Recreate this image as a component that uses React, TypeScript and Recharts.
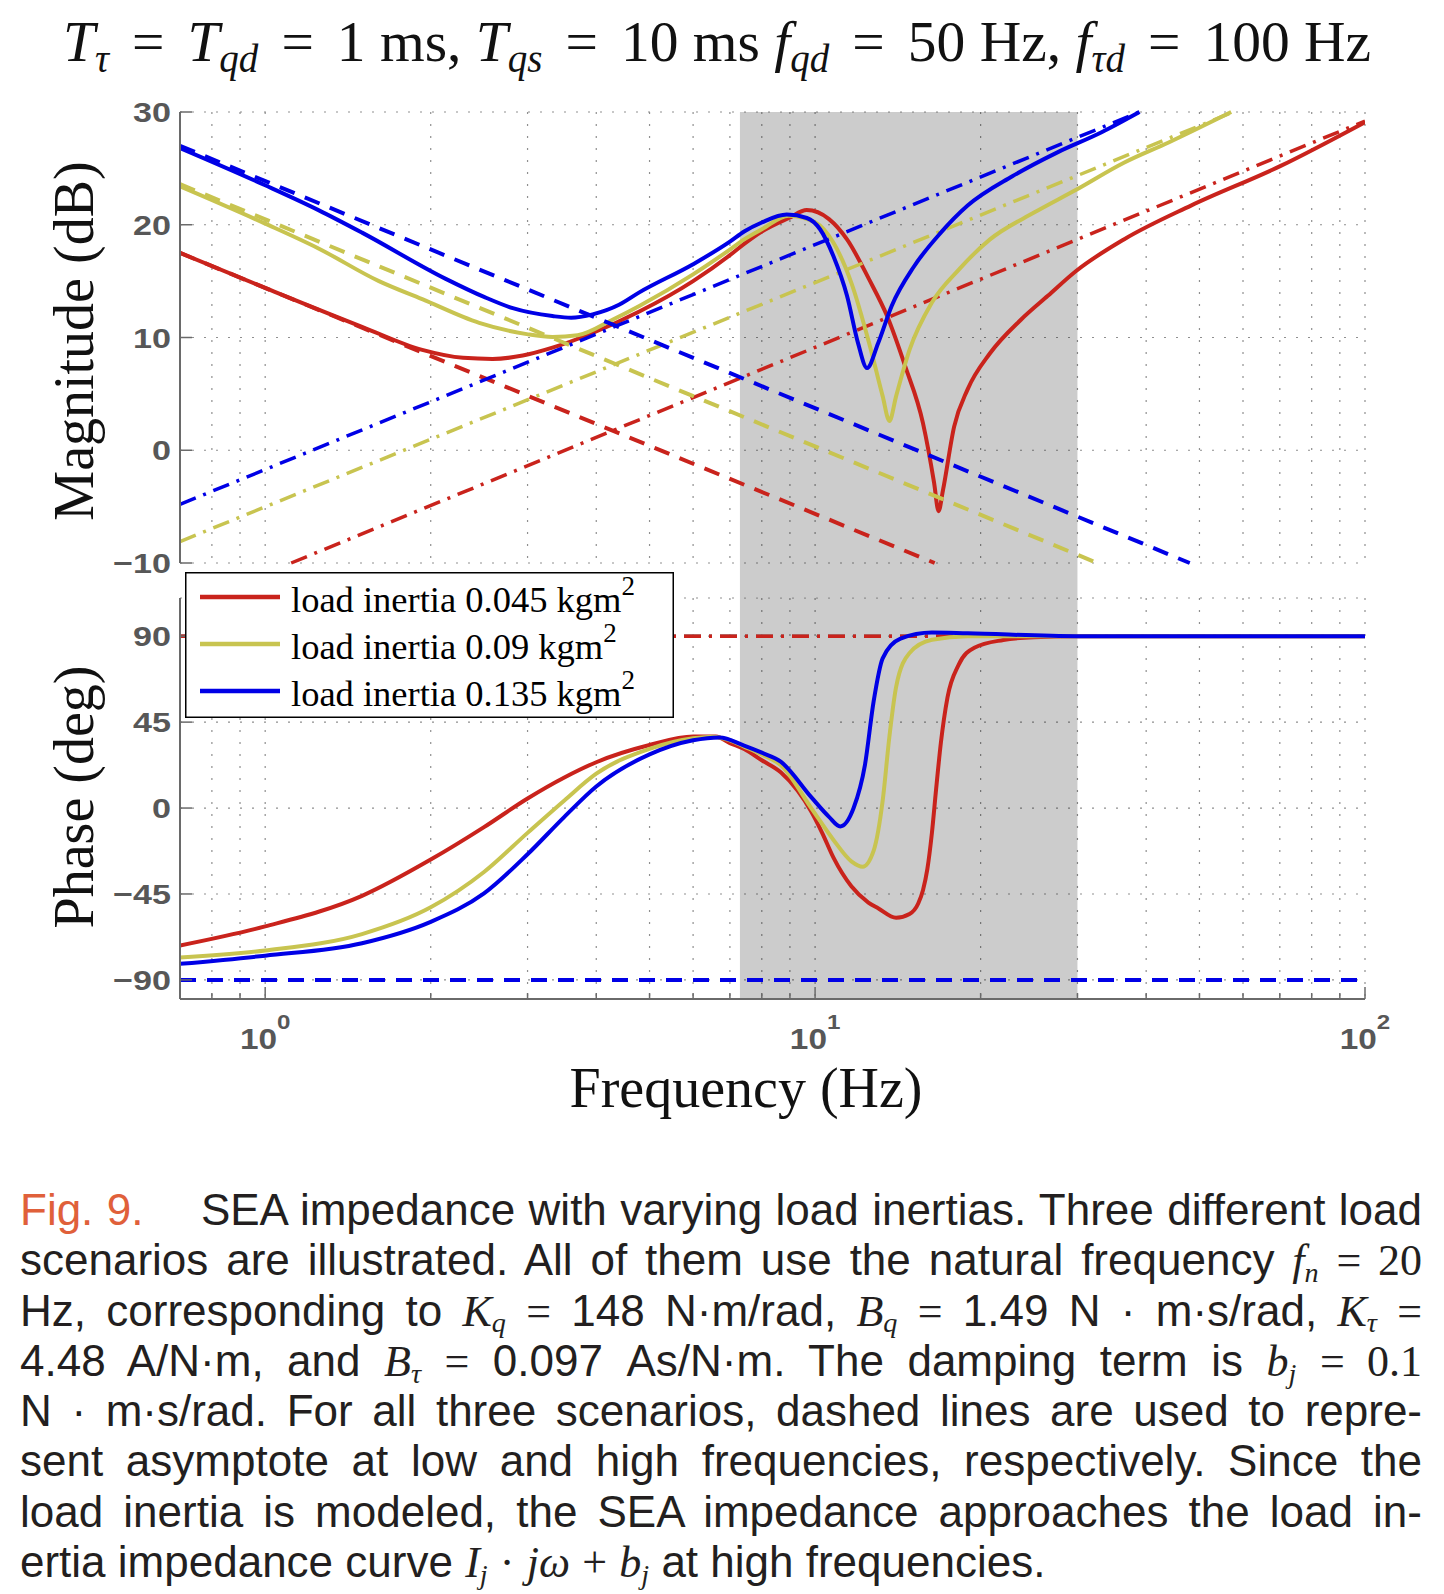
import React from 'react';
import { ComposedChart, Line, XAxis, YAxis, CartesianGrid, ReferenceArea, Legend } from 'recharts';

// ---------- axes / ticks ----------
const F_DOMAIN = [0.7, 100];
const X_TICKS = [0.8, 0.9, 1, 2, 3, 4, 5, 6, 7, 8, 9, 10, 20, 30, 40, 50, 60, 70, 80, 90, 100];
const MAG_DOMAIN = [-10, 30];
const MAG_TICKS = [-10, 0, 10, 20, 30];
const PHASE_DOMAIN = [-100, 110];
const PHASE_TICKS = [-90, -45, 0, 45, 90];
const SHADE_F = [7.3, 30];

// ---------- series ----------
const INERTIAS = ['0.045', '0.09', '0.135'];
const COLORS = ['#c9231c', '#c8c450', '#0000e6'];

// magnitude (dB), solid curves
const MAG_F_1 = [0.7, 1, 1.5, 1.93, 2.29, 2.59, 2.94, 3.33, 3.94, 4.79, 6, 7, 7.43, 8, 8.96, 9.66, 10.6, 11.43, 12.54, 13.52, 14.57, 15.71, 16.46, 16.77, 17.09, 17.9, 18.94, 20.8, 23.7, 26.5, 29.83, 36.44, 48.25, 70.1, 100];
const MAG_DB_1 = [17.5, 14.4, 10.95, 8.9, 8.2, 8.1, 8.4, 9.1, 10.4, 12.3, 15.0, 17.3, 18.3, 19.4, 20.6, 21.3, 20.5, 18.7, 15.15, 11.9, 7.5, 2.4, -2.9, -5.4, -3.5, 2.1, 5.4, 8.6, 11.6, 13.7, 15.9, 18.7, 21.7, 25.2, 29.1];
const MAG_F_2 = [0.7, 1, 1.25, 1.61, 1.93, 2.45, 2.99, 3.33, 3.7, 4.29, 4.79, 6, 7, 7.43, 8, 8.96, 10.02, 10.8, 11.64, 12.54, 13.27, 13.65, 14.04, 14.85, 16.31, 18.24, 20.8, 25.06, 29.83, 36.44, 43.94, 57.1];
const MAG_DB_2 = [23.4, 20.1, 17.9, 15.0, 13.4, 11.3, 10.3, 10.05, 10.2, 11.6, 12.8, 15.6, 17.8, 18.7, 19.6, 20.8, 20.2, 18.4, 14.85, 9.5, 4.8, 2.6, 4.8, 8.9, 13.1, 16.0, 18.7, 21.1, 23.1, 25.5, 27.3, 30];
const MAG_F_3 = [0.7, 1, 1.25, 1.5, 2.13, 2.5, 2.82, 3.33, 3.6, 3.94, 4.4, 4.79, 6, 7, 7.43, 8, 8.88, 9.66, 10.21, 10.8, 11.43, 11.97, 12.43, 13.02, 13.78, 15.13, 16.93, 18.94, 22.84, 27.53, 33.19, 38.9];
const MAG_DB_3 = [26.8, 23.5, 21.3, 19.3, 15.2, 13.6, 12.6, 11.9, 11.75, 12.05, 12.9, 14.0, 16.5, 18.5, 19.4, 20.2, 20.9, 20.6, 19.6, 17.2, 13.7, 9.5, 7.3, 9.5, 12.8, 16.3, 19.3, 21.7, 24.3, 26.4, 28.2, 30];

// magnitude asymptotes: low frequency (dashed) and high frequency (dash-dot) end points
const LOW_F_1 = [0.7, 16.5];
const LOW_DB_1 = [17.5, -10];
const LOW_F_2 = [0.7, 32.6];
const LOW_DB_2 = [23.6, -10];
const LOW_F_3 = [0.7, 48];
const LOW_DB_3 = [27.0, -10];
const HIGH_F_1 = [1.115, 100];
const HIGH_DB_1 = [-10, 29.2];
const HIGH_F_2 = [0.7, 57.6];
const HIGH_DB_2 = [-8.1, 30];
const HIGH_F_3 = [0.7, 38.9];
const HIGH_DB_3 = [-4.8, 30];

// phase (deg), solid curves
const PH_F_1 = [0.7, 1, 1.5, 2, 2.5, 3, 3.5, 4, 5, 6, 6.6, 7, 7.43, 8, 8.66, 9.3, 9.84, 10.3, 10.8, 11.64, 12.5, 13.02, 14.04, 14.85, 15.4, 15.71, 16.0, 16.31, 16.6, 16.93, 17.41, 18.24, 19.48, 21.99, 25, 30, 100];
const PH_DEG_1 = [-72, -62, -46, -27, -10, 5, 16, 24, 33, 37.5, 37.5, 34, 30.9, 25, 18.7, 9, -1.8, -13, -26, -41, -49.5, -52.5, -57.5, -55.5, -50, -43, -32, -13, 10, 34, 58, 75, 84, 88, 89.5, 90, 90];
const PH_F_2 = [0.7, 1, 1.5, 2, 2.5, 3, 3.5, 4, 5, 6, 6.5, 7, 7.43, 8, 8.66, 9.84, 10.8, 11.64, 12.21, 12.78, 13.27, 13.65, 14.04, 14.85, 16.31, 18.94, 30, 100];
const PH_DEG_2 = [-78.3, -74.6, -66, -52, -33.5, -13, 4, 18, 31, 36.5, 37.4, 35.5, 32.2, 28, 22.5, 0, -16.7, -27.9, -30.7, -22.3, 3.8, 37.4, 63.5, 81.2, 88.1, 90, 90, 90];
const PH_F_3 = [0.7, 1, 1.5, 2, 2.5, 3, 3.5, 4, 5, 6, 6.7, 7.43, 8, 8.66, 9.84, 10.6, 11.11, 11.75, 12.32, 12.78, 13.27, 14.3, 16.31, 18.94, 30, 100];
const PH_DEG_3 = [-81.6, -77.3, -70.8, -59.6, -44.7, -24.2, -4.6, 11.3, 28.1, 35.5, 37, 32.7, 29, 24.3, 5.7, -4.6, -9.6, 0, 22.5, 56, 78.4, 88.7, 91.9, 91.5, 90, 90];

// phase asymptotes
const PH_ASYM_F = [0.7, 100];
const PH_LOW_DEG = [-90, -90];
const PH_HIGH_DEG = [90, 90];

const mk = (fs: number[], vs: number[]) => fs.map((f, i) => ({ f, v: vs[i] }));

const MAG_SOLID = [mk(MAG_F_1, MAG_DB_1), mk(MAG_F_2, MAG_DB_2), mk(MAG_F_3, MAG_DB_3)];
const MAG_LOW = [mk(LOW_F_1, LOW_DB_1), mk(LOW_F_2, LOW_DB_2), mk(LOW_F_3, LOW_DB_3)];
const MAG_HIGH = [mk(HIGH_F_1, HIGH_DB_1), mk(HIGH_F_2, HIGH_DB_2), mk(HIGH_F_3, HIGH_DB_3)];
const PH_SOLID = [mk(PH_F_1, PH_DEG_1), mk(PH_F_2, PH_DEG_2), mk(PH_F_3, PH_DEG_3)];
const PH_LOW = mk(PH_ASYM_F, PH_LOW_DEG);
const PH_HIGH = mk(PH_ASYM_F, PH_HIGH_DEG);

// ---------- styling ----------
const AXIS_COLOR = '#6a6a6a';
const LABEL_COLOR = '#575757';
const SERIF = '"Liberation Serif", "Times New Roman", serif';
const SANS = '"Liberation Sans", Arial, Helvetica, sans-serif';
const DASH = '16 11';
const DASHDOT = '17 8 3 8';
const axisLineStyle = { stroke: AXIS_COLOR, strokeWidth: 2 };

const isMajor = (v: number) => Math.abs(Math.log10(v) - Math.round(Math.log10(v))) < 1e-9;
const fmt = (v: number) => (v < 0 ? '\u2212' + Math.abs(v) : String(v));

const xMarks = (dir: number, withLabel: boolean) => (props: any) => {
  const { x, y, payload } = props;
  const v = payload.value;
  const len = isMajor(v) ? 12 : 6;
  return (
    <g>
      <line x1={x} x2={x} y1={y} y2={y + dir * len} stroke={AXIS_COLOR} strokeWidth={1.5} />
      {withLabel && isMajor(v) ? (
        <g transform={`translate(${x},${y + 50}) scale(1.15,1)`}>
          <text textAnchor="middle" fontFamily={SANS} fontWeight="bold" fontSize={29} fill={LABEL_COLOR}>
            10<tspan dy={-20} fontSize={21}>{Math.round(Math.log10(v))}</tspan>
          </text>
        </g>
      ) : null}
    </g>
  );
};

const yMarks = (dir: number, withLabel: boolean) => (props: any) => {
  const { x, y, payload } = props;
  return (
    <g>
      <line x1={x} x2={x + dir * 12} y1={y} y2={y} stroke={AXIS_COLOR} strokeWidth={1.5} />
      {withLabel ? (
        <g transform={`translate(${x - 9},${y + 10}) scale(1.22,1)`}>
          <text textAnchor="end" fontFamily={SANS} fontWeight="bold" fontSize={28} fill={LABEL_COLOR}>
            {fmt(payload.value)}
          </text>
        </g>
      ) : null}
    </g>
  );
};

const AxisTitle = (p: any) => {
  const { tx, ty, text, rotate } = p;
  return (
    <text
      x={tx}
      y={ty}
      textAnchor="middle"
      fontFamily={SERIF}
      fontSize={56}
      fill="#111"
      transform={rotate ? `rotate(-90 ${tx} ${ty})` : undefined}
    >
      {text}
    </text>
  );
};

const renderLegend = (props: any) => {
  const items = (props.payload || []).filter((p: any) => p.type !== 'none');
  return (
    <svg width={489} height={146} style={{ display: 'block' }}>
      <rect x={0.75} y={0.75} width={487.5} height={144.5} fill="#fff" stroke="#000" strokeWidth={1.5} />
      {items.map((it: any, i: number) => (
        <g key={i}>
          <line x1={15} x2={95} y1={25 + 47 * i} y2={25 + 47 * i} stroke={it.color} strokeWidth={4.5} />
          <text x={106} y={40 + 47 * i} fontFamily={SERIF} fontSize={36.5} fill="#000">
            {it.value}
            <tspan fontSize={27} dy={-17}>2</tspan>
          </text>
        </g>
      ))}
    </svg>
  );
};

const commonX = {
  type: 'number' as const,
  dataKey: 'f',
  scale: 'log' as const,
  domain: F_DOMAIN,
  allowDataOverflow: true,
  ticks: X_TICKS,
  interval: 0,
  tickSize: 0,
  tickMargin: 0,
  tickLine: false,
  axisLine: axisLineStyle,
};

const M = ({ children }: any) => <span style={{ fontFamily: SERIF, fontStyle: 'italic' }}>{children}</span>;
const S = ({ children }: any) => (
  <span style={{ fontFamily: SERIF, fontStyle: 'italic', fontSize: '0.64em', position: 'relative', top: '0.24em', lineHeight: 0 }}>{children}</span>
);
const E = ({ children }: any) => <span style={{ fontFamily: SERIF }}>{children}</span>;

const lineStyle: React.CSSProperties = { textAlign: 'justify', textAlignLast: 'justify' as any, height: 50.3, overflow: 'visible' };

const Sub = ({ children }: any) => (
  <tspan fontStyle="italic" fontSize={39} dy={11}>{children}</tspan>
);

const EQ = '\u2009\u2009=\u2009\u2009';

export default function App() {
  return (
    <div style={{ position: 'absolute', left: 0, top: 0, width: 1444, height: 1594, background: '#fff' }}>
      {/* title */}
      <svg width={1444} height={100} style={{ position: 'absolute', left: 0, top: 0 }}>
        <text x={717} y={61} textAnchor="middle" fontFamily={SERIF} fontSize={57.5} fill="#111" style={{ whiteSpace: 'pre' }}>
          <tspan fontStyle="italic">T</tspan>
          <Sub>τ</Sub>
          <tspan dy={-11}>{EQ}</tspan>
          <tspan fontStyle="italic">T</tspan>
          <Sub>qd</Sub>
          <tspan dy={-11}>{EQ + '1 ms, '}</tspan>
          <tspan fontStyle="italic">T</tspan>
          <Sub>qs</Sub>
          <tspan dy={-11}>{EQ + '10 ms '}</tspan>
          <tspan fontStyle="italic">f</tspan>
          <Sub>qd</Sub>
          <tspan dy={-11}>{EQ + '50 Hz, '}</tspan>
          <tspan fontStyle="italic">f</tspan>
          <Sub>τd</Sub>
          <tspan dy={-11}>{EQ + '100 Hz'}</tspan>
        </text>
      </svg>

      {/* magnitude */}
      <div style={{ position: 'absolute', left: 0, top: 0 }}>
        <ComposedChart width={1444} height={598} margin={{ top: 112, right: 79, bottom: 35, left: 0 }}>
          <ReferenceArea x1={SHADE_F[0]} x2={SHADE_F[1]} y1={-13.1} y2={30} ifOverflow="visible" fill="#000" fillOpacity={0.2} stroke="none" />
          <CartesianGrid stroke="#8f8f8f" strokeDasharray="2 10" strokeWidth={1.2} />
          <XAxis {...commonX} height={0} tick={xMarks(-1, false)} />
          <XAxis {...commonX} xAxisId="top" orientation="top" height={0} tick={xMarks(1, false)} />
          <YAxis
            type="number"
            domain={MAG_DOMAIN}
            ticks={MAG_TICKS}
            width={180}
            interval={0}
            tickSize={0}
            tickMargin={0}
            tickLine={false}
            axisLine={axisLineStyle}
            tick={yMarks(1, true)}
            label={<AxisTitle tx={93} ty={341} text="Magnitude (dB)" rotate />}
          />
          <YAxis
            yAxisId="right"
            orientation="right"
            type="number"
            domain={MAG_DOMAIN}
            ticks={MAG_TICKS}
            width={0}
            interval={0}
            tickSize={0}
            tickMargin={0}
            tickLine={false}
            axisLine={axisLineStyle}
            tick={yMarks(-1, false)}
          />
          {[0, 1, 2].map((i) => [
            <Line key={`ms${i}`} data={MAG_SOLID[i]} dataKey="v" type="monotoneX" stroke={COLORS[i]} strokeWidth={4} dot={false} activeDot={false} isAnimationActive={false} />,
            <Line key={`ml${i}`} data={MAG_LOW[i]} dataKey="v" type="linear" stroke={COLORS[i]} strokeWidth={4} strokeDasharray={DASH} dot={false} activeDot={false} isAnimationActive={false} />,
            <Line key={`mh${i}`} data={MAG_HIGH[i]} dataKey="v" type="linear" stroke={COLORS[i]} strokeWidth={3.5} strokeDasharray={DASHDOT} dot={false} activeDot={false} isAnimationActive={false} />,
          ])}
        </ComposedChart>
      </div>

      {/* phase */}
      <div style={{ position: 'absolute', left: 0, top: 588 }}>
        <ComposedChart width={1444} height={541} margin={{ top: 10, right: 79, bottom: 0, left: 0 }}>
          <ReferenceArea x1={SHADE_F[0]} x2={SHADE_F[1]} ifOverflow="visible" fill="#000" fillOpacity={0.2} stroke="none" />
          <CartesianGrid stroke="#8f8f8f" strokeDasharray="2 10" strokeWidth={1.2} />
          <XAxis {...commonX} height={130} tick={xMarks(-1, true)} label={<AxisTitle tx={746} ty={519} text="Frequency (Hz)" />} />
          <XAxis {...commonX} xAxisId="top" orientation="top" height={0} tick={xMarks(1, false)} />
          <YAxis
            type="number"
            domain={PHASE_DOMAIN}
            ticks={PHASE_TICKS}
            width={180}
            interval={0}
            tickSize={0}
            tickMargin={0}
            tickLine={false}
            axisLine={axisLineStyle}
            tick={yMarks(1, true)}
            label={<AxisTitle tx={93} ty={209} text="Phase (deg)" rotate />}
          />
          <YAxis
            yAxisId="right"
            orientation="right"
            type="number"
            domain={PHASE_DOMAIN}
            ticks={PHASE_TICKS}
            width={0}
            interval={0}
            tickSize={0}
            tickMargin={0}
            tickLine={false}
            axisLine={axisLineStyle}
            tick={yMarks(-1, false)}
          />
          {[0, 1, 2].map((i) => (
            <Line key={`pl${i}`} data={PH_LOW} dataKey="v" type="linear" stroke={COLORS[i]} strokeWidth={4} strokeDasharray={DASH} dot={false} activeDot={false} legendType="none" isAnimationActive={false} />
          ))}
          {[2, 1, 0].map((i) => (
            <Line key={`ph${i}`} data={PH_HIGH} dataKey="v" type="linear" stroke={COLORS[i]} strokeWidth={3.5} strokeDasharray={DASHDOT} dot={false} activeDot={false} legendType="none" isAnimationActive={false} />
          ))}
          {[0, 1, 2].map((i) => (
            <Line key={`ps${i}`} name={`load inertia ${INERTIAS[i]} kgm`} data={PH_SOLID[i]} dataKey="v" type="monotoneX" stroke={COLORS[i]} strokeWidth={4} dot={false} activeDot={false} isAnimationActive={false} />
          ))}
          <Legend layout="vertical" align="center" verticalAlign="middle" wrapperStyle={{ left: 185, top: -16, width: 489, height: 146 }} content={renderLegend} />
        </ComposedChart>
      </div>

      {/* caption */}
      <div style={{ position: 'absolute', left: 20, top: 1185, width: 1402, fontFamily: SANS, fontSize: 44, lineHeight: '50.3px', color: '#231f20' }}>
        <div style={lineStyle}>
          <span style={{ color: '#e0603a' }}>Fig. 9.</span>{'\u2003 '}SEA impedance with varying load inertias. Three different load
        </div>
        <div style={lineStyle}>
          scenarios are illustrated. All of them use the natural frequency <M>f</M><S>n</S> <E>= 20</E>
        </div>
        <div style={lineStyle}>
          Hz, corresponding to <M>K</M><S>q</S> <E>=</E> 148 N·m/rad, <M>B</M><S>q</S> <E>=</E> 1.49 N · m·s/rad, <M>K</M><S>τ</S> <E>=</E>
        </div>
        <div style={lineStyle}>
          4.48 A/N·m, and <M>B</M><S>τ</S> <E>=</E> 0.097 As/N·m. The damping term is <M>b</M><S>j</S> <E>= 0.1</E>
        </div>
        <div style={lineStyle}>N · m·s/rad. For all three scenarios, dashed lines are used to repre-</div>
        <div style={lineStyle}>sent asymptote at low and high frequencies, respectively. Since the</div>
        <div style={lineStyle}>load inertia is modeled, the SEA impedance approaches the load in-</div>
        <div style={{ height: 50.3 }}>
          ertia impedance curve <M>I</M><S>j</S> <E>·</E> <M>jω</M> <E>+</E> <M>b</M><S>j</S> at high frequencies.
        </div>
      </div>
    </div>
  );
}
